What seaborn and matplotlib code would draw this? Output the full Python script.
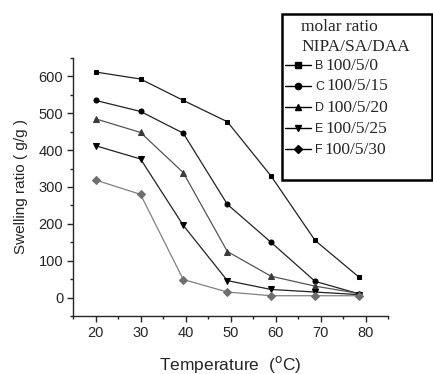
import matplotlib
matplotlib.use("Agg")
import matplotlib.pyplot as plt
import seaborn as sns
import pandas as pd
from matplotlib.ticker import MultipleLocator
from matplotlib.lines import Line2D
from matplotlib.patches import Rectangle

temps = [20, 30, 39.5, 49.3, 59, 68.8, 78.6]
swell_b = [612, 593, 535, 477, 330, 155, 55]
swell_c = [535, 505, 446, 253, 150, 44, 10]
swell_d = [485, 448, 339, 125, 58, 31, 11]
swell_e = [412, 376, 196, 46, 22, 15, 8]
swell_f = [319, 280, 49, 15, 5, 5, 5]

letters = ["B", "C", "D", "E", "F"]
ratios = ["100/5/0", "100/5/15", "100/5/20", "100/5/25", "100/5/30"]
series = [swell_b, swell_c, swell_d, swell_e, swell_f]
markers = ["s", "o", "^", "v", "D"]
mcolors = ["#000000", "#000000", "#3a3a3a", "#000000", "#6e6e6e"]
lcolors = ["#222222", "#222222", "#555555", "#222222", "#808080"]
msizes = [3.2, 3.6, 5, 5, 4.5]

rows = []
for let, s in zip(letters, series):
    for t, v in zip(temps, s):
        rows.append({"Temperature": t, "Swelling": v, "sample": let})
df = pd.DataFrame(rows)

sns.set_style("ticks")
plt.rcParams["font.family"] = ["Liberation Sans", "DejaVu Sans"]

W, H = 433, 374
fig = plt.figure(figsize=(W / 100, H / 100), dpi=100)
ax = fig.add_axes([73 / W, 1 - 316 / H, 315 / W, 258 / H])

for i, let in enumerate(letters):
    sub = df[df["sample"] == let]
    sns.lineplot(data=sub, x="Temperature", y="Swelling", ax=ax,
                 color=lcolors[i], linewidth=0.9, marker=markers[i],
                 markersize=msizes[i], markerfacecolor=mcolors[i],
                 markeredgecolor=mcolors[i], legend=False)

ax.set_xlim(15, 85)
ax.set_ylim(-50, 650)
ax.xaxis.set_major_locator(MultipleLocator(10))
ax.xaxis.set_minor_locator(MultipleLocator(5))
ax.yaxis.set_major_locator(MultipleLocator(100))
ax.yaxis.set_minor_locator(MultipleLocator(50))
ax.set_xticks([20, 30, 40, 50, 60, 70, 80])
ax.tick_params(which="major", direction="out", length=4, width=1, labelsize=10.5, pad=3)
ax.tick_params(which="minor", direction="out", length=2.5, width=1)
for sp in ["top", "right"]:
    ax.spines[sp].set_visible(False)
for sp in ["left", "bottom"]:
    ax.spines[sp].set_linewidth(1)
ax.set_xlabel("Temperature  ($^{\\rm o}$C)", fontsize=12.5, labelpad=10)
ax.set_ylabel("Swelling ratio ( g/g )", fontsize=11, labelpad=8)

# legend box
fig.patches.append(Rectangle((282 / W, 1 - 180 / H), 150 / W, 166 / H,
                             transform=fig.transFigure, fill=True, facecolor="white",
                             edgecolor="black", linewidth=1.8, zorder=5))
serif = {"family": "Liberation Serif", "size": 12.5}
fig.text(301 / W, 1 - 27 / H, "molar ratio", va="center", ha="left", zorder=6, **serif)
fig.text(301 / W, 1 - 47 / H, "NIPA/SA/DAA", va="center", ha="left", zorder=6, **serif)

handles = [Line2D([], [], color="black", linewidth=1, marker=m, markersize=4.5,
                  markerfacecolor="black", markeredgecolor="black") for m in markers]
leg = fig.legend(handles, letters, loc="upper left", bbox_to_anchor=(285 / W, 1 - 60 / H),
                 frameon=False, borderpad=0, handlelength=2.1, handletextpad=0.3,
                 labelspacing=0.72, borderaxespad=0, prop={"size": 9})
leg.set_zorder(6)

fig.canvas.draw()
inv = fig.transFigure.inverted()
for txt, r in zip(leg.get_texts(), ratios):
    bb = txt.get_window_extent()
    x0, y0 = inv.transform((bb.x1 + 2, (bb.y0 + bb.y1) / 2))
    fig.text(x0, y0 + 0.5 / H, r, va="center", ha="left", zorder=6, **serif)

fig.savefig("out.png", dpi=100)
